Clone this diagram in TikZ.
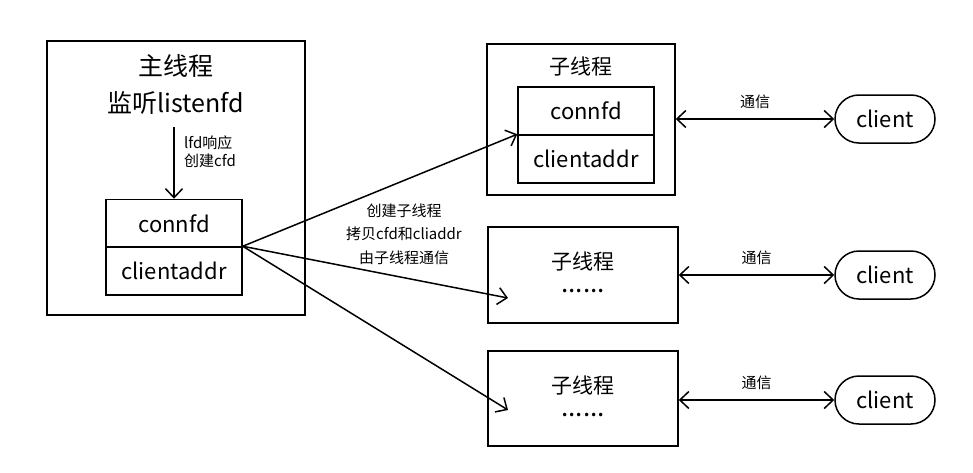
\documentclass[tikz,border=0pt]{standalone}
\usepackage{fontspec}
\setmainfont{Noto Sans CJK SC}
\usetikzlibrary{arrows.meta}
\begin{document}
\begin{tikzpicture}[x=1pt,y=-1pt,
  line width=1.5pt,
  box/.style={draw, rectangle, inner sep=0pt},
  cell/.style={draw, rectangle, inner sep=0pt, minimum width=136pt, minimum height=48pt, font=\fontsize{22}{26}\selectfont},
  big/.style={font=\fontsize{25}{30}\selectfont, inner sep=0pt},
  mid/.style={font=\fontsize{21}{25}\selectfont, inner sep=0pt},
  childtext/.style={font=\fontsize{21}{23}\selectfont, align=center, inner sep=0pt},
  small/.style={font=\fontsize{15}{23.5}\selectfont, align=center, inner sep=0pt},
  tiny/.style={font=\fontsize{15}{18}\selectfont, align=left, inner sep=0pt},
  clientbox/.style={draw, rounded corners=24pt, minimum width=100pt, minimum height=48pt, inner sep=0pt, font=\fontsize{22}{26}\selectfont},
  arr/.style={-{Straight Barb[length=9pt,width=17pt]}},
  darr/.style={{Straight Barb[length=9pt,width=17pt]}-{Straight Barb[length=9pt,width=17pt]}}
]
\useasboundingbox (0,0) rectangle (973,472);
% main thread
\node[box, minimum width=258pt, minimum height=274pt] (main) at (176,178) {};
\node[big] (maintitle) at (176,66) {主线程};
\node[big] (listen) at (176,103) {监听listenfd};
\node[cell] (conn1) at (174,223.5) {connfd};
\node[cell] (addr1) at (174,271) {clientaddr};
\coordinate (lfdtop) at (174,127);
\draw[arr] (lfdtop) -- (conn1.north);
\node[tiny] (lfdlabel) at (210,152) {lfd响应\\创建cfd};
% child 1
\node[box, minimum width=188pt, minimum height=151pt] (child1) at (581,119.5) {};
\node[mid] (c1title) at (581,66) {子线程};
\node[cell] (conn2) at (586,111) {connfd};
\node[cell] (addr2) at (586,159) {clientaddr};
% child 2
\node[box, minimum width=190pt, minimum height=96pt] (child2) at (583,275) {};
\node[childtext] (c2text) at (583,272) {子线程\\{\fontsize{26}{23}\selectfont ......}};
% child 3
\node[box, minimum width=190pt, minimum height=95pt] (child3) at (583,398.5) {};
\node[childtext] (c3text) at (583,396) {子线程\\{\fontsize{26}{23}\selectfont ......}};
% fan-out arrows
\coordinate (t2) at (508,298);
\coordinate (t3) at (508,410);
\draw[arr] (addr1.north east) -- (addr2.north west);
\draw[arr] (addr1.north east) -- (t2);
\draw[arr] (addr1.north east) -- (t3);
\node[small] (fanlabel) at (404,234) {创建子线程\\拷贝cfd和cliaddr\\由子线程通信};
% clients
\node[clientbox] (cl1) at (885,119) {client};
\node[clientbox] (cl2) at (885,275) {client};
\node[clientbox] (cl3) at (885,400) {client};
\draw[darr] (cl1.west -| child1.east) -- node[small, above=10pt] {通信} (cl1.west);
\draw[darr] (cl2.west -| child2.east) -- node[small, above=10pt] {通信} (cl2.west);
\draw[darr] (cl3.west -| child3.east) -- node[small, above=10pt] {通信} (cl3.west);
\end{tikzpicture}
\end{document}
